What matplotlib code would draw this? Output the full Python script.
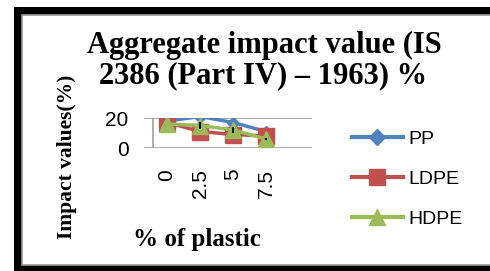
import matplotlib
matplotlib.use("Agg")
import matplotlib.pyplot as plt
from matplotlib.patches import Rectangle
from matplotlib.lines import Line2D

# data
plastic_pct = ["0", "2.5", "5", "7.5"]
pp = [18, 21, 17, 11]
ldpe = [17, 11, 9, 8]
hdpe = [16, 15, 12, 6]
hdpe_err = [0, 2.5, 2, 0.5]

blue = "#4F81BD"
red = "#C0504D"
green = "#9BBB59"
serif = "Liberation Serif"
sans = "Liberation Sans"

W, H = 490, 271
fig = plt.figure(figsize=(W / 100, H / 100), dpi=100)

# frame round the chart
fig.add_artist(Rectangle((14 / W, -0.1), 1.2, 1 - 7 / H + 0.1, transform=fig.transFigure,
                         facecolor="black", edgecolor="none", zorder=-20))
fig.add_artist(Rectangle((22 / W, 1 - 265 / H), 1.2, (265 - 15) / H, transform=fig.transFigure,
                         facecolor="white", edgecolor="#9a9a9a", linewidth=1.2, zorder=-19))

ax = fig.add_axes([144 / W, 1 - 148 / H, (312 - 144) / W, 30 / H])
ax.set_facecolor("none")
x = list(range(len(plastic_pct)))

ax.plot(x, pp, color=blue, lw=2.5, marker="D", ms=6, label="PP")
ax.plot(x, ldpe, color=red, lw=2.5, marker="s", ms=11, label="LDPE")
ax.plot(x, hdpe, color=green, lw=2.5, marker="^", ms=12, label="HDPE")
ax.errorbar(x, hdpe, yerr=hdpe_err, fmt="none", ecolor="black", elinewidth=1.5, capsize=0)

ax.set_xlim(-0.7, 4.39)
ax.set_ylim(0, 20)
ax.set_yticks([0, 20])
ax.set_xticks(x)
ax.set_xticklabels(plastic_pct, rotation=90, va="top", ha="center")
for s in ax.spines.values():
    s.set_visible(False)
ax.axhline(0, color="#a0a0a0", lw=1.2, zorder=0)
ax.axhline(20, color="#a0a0a0", lw=1.2, zorder=0)
ax.plot([-0.42, -0.42], [0, 20], color="#a0a0a0", lw=1.2, zorder=0)
ax.tick_params(length=0, labelsize=15)
ax.tick_params(axis="x", pad=15)
ax.tick_params(axis="y", pad=11)
for lab in ax.get_xticklabels() + ax.get_yticklabels():
    lab.set_family(sans)

# titles
fig.text(264 / W, 1 - 53 / H, "Aggregate impact value (IS", ha="center", va="baseline",
         family=serif, weight="bold", fontsize=22)
fig.text(263 / W, 1 - 83 / H, "2386 (Part IV) \u2013 1963) %", ha="center", va="baseline",
         family=serif, weight="bold", fontsize=22)
fig.text(67 / W, 1 - 157 / H, "Impact values(%)", rotation=90, ha="center", va="center",
         family=serif, weight="bold", fontsize=15.5)
fig.text(197 / W, 1 - 246 / H, "% of plastic", ha="center", va="baseline",
         family=serif, weight="bold", fontsize=18)

handles = [
    Line2D([], [], color=blue, lw=3, marker="D", ms=8),
    Line2D([], [], color=red, lw=3, marker="s", ms=12),
    Line2D([], [], color=green, lw=3, marker="^", ms=11),
]
fig.legend(handles, ["PP", "LDPE", "HDPE"], loc="center left",
           bbox_to_anchor=(352 / W, 1 - 179 / H), frameon=False, borderpad=0,
           borderaxespad=0, handlelength=2.6, handletextpad=0.3, labelspacing=1.15,
           prop={"family": sans, "size": 14})

fig.savefig("out.png", dpi=100)
